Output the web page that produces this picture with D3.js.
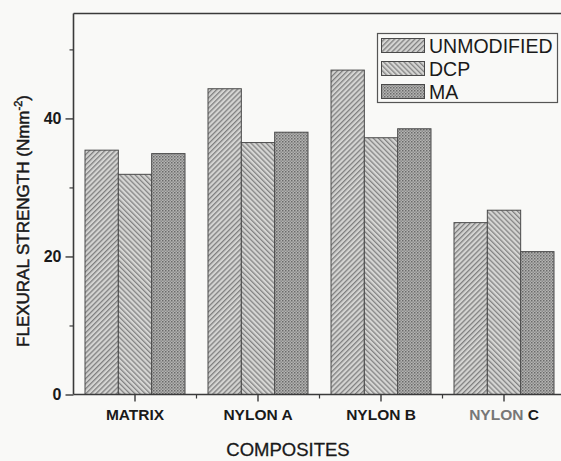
<!DOCTYPE html>
<html>
<head>
<meta charset="utf-8">
<script src="https://cdn.jsdelivr.net/npm/d3@7"></script>
<style>
  html, body { margin: 0; padding: 0; background: #f9f9f7; }
  svg { display: block; }
  text { font-family: "Liberation Sans", Arial, sans-serif; fill: #1a1a1a; }
</style>
</head>
<body>
<script>
const categories = ["MATRIX", "NYLON A", "NYLON B", "NYLON C"];
const seriesNames = ["UNMODIFIED", "DCP", "MA"];
const unmodified = [35.4, 44.3, 47.0, 24.9];
const dcp = [31.9, 36.5, 37.2, 26.7];
const ma = [34.9, 38.0, 38.5, 20.7];
const yMajorTicks = [0, 20, 40];
const yMinorTicks = [10, 30, 50];

(function () {
const seriesValues = [unmodified, dcp, ma];
const W = 561, H = 461;
const mLeft = 73.5, mTop = 13.5, mBottom = 394.5, mRight = 565.5;

const svg = d3.select("body").append("svg").attr("width", W).attr("height", H);
svg.append("rect").attr("width", W).attr("height", H).attr("fill", "#f9f9f7");

const defs = svg.append("defs");
const p1 = defs.append("pattern").attr("id", "pat0").attr("patternUnits", "userSpaceOnUse")
  .attr("width", 3.6).attr("height", 3.6).attr("patternTransform", "rotate(45)");
p1.append("rect").attr("width", 3.6).attr("height", 3.6).attr("fill", "#d4d4d2");
p1.append("rect").attr("width", 1.3).attr("height", 3.6).attr("fill", "#7f7f7f");
const p2 = defs.append("pattern").attr("id", "pat1").attr("patternUnits", "userSpaceOnUse")
  .attr("width", 3.6).attr("height", 3.6).attr("patternTransform", "rotate(-45)");
p2.append("rect").attr("width", 3.6).attr("height", 3.6).attr("fill", "#d6d6d4");
p2.append("rect").attr("width", 1.3).attr("height", 3.6).attr("fill", "#838383");
const p3 = defs.append("pattern").attr("id", "pat2").attr("patternUnits", "userSpaceOnUse")
  .attr("width", 3).attr("height", 3);
p3.append("rect").attr("width", 3).attr("height", 3).attr("fill", "#b4b4b2");
p3.append("rect").attr("width", 1.5).attr("height", 1.5).attr("fill", "#6a6a6a");
p3.append("rect").attr("x", 1.5).attr("y", 1.5).attr("width", 1.5).attr("height", 1.5).attr("fill", "#8a8a8a");

const y = d3.scaleLinear().domain([0, 55.2]).range([mBottom, mTop]);
const x0 = d3.scaleBand().domain(categories).range([mLeft, mRight]).paddingInner(0.187).paddingOuter(0.0935);
const x1 = d3.scaleBand().domain(seriesNames).range([0, x0.bandwidth()]);

categories.forEach((c, ci) => {
  seriesNames.forEach((s, si) => {
    const v = seriesValues[si][ci];
    svg.append("rect")
      .attr("x", x0(c) + x1(s))
      .attr("y", y(v))
      .attr("width", x1.bandwidth())
      .attr("height", y(0) - y(v))
      .attr("fill", `url(#pat${si})`)
      .attr("stroke", "#4a4a4a")
      .attr("stroke-width", 1);
  });
});

const axisColor = "#3a3a3a";
svg.append("line").attr("x1", mLeft).attr("x2", mRight).attr("y1", mTop).attr("y2", mTop)
  .attr("stroke", axisColor).attr("stroke-width", 1.6);
svg.append("line").attr("x1", mLeft).attr("x2", mLeft).attr("y1", mTop).attr("y2", mBottom)
  .attr("stroke", axisColor).attr("stroke-width", 1.6);
svg.append("line").attr("x1", mLeft).attr("x2", mRight).attr("y1", mBottom).attr("y2", mBottom)
  .attr("stroke", axisColor).attr("stroke-width", 1.6);

const yAxis = d3.axisLeft(y).tickValues(yMajorTicks).tickSize(8).tickPadding(4).tickFormat(d3.format("d"));
const gy = svg.append("g").attr("transform", `translate(${mLeft},0)`).call(yAxis);
gy.select(".domain").remove();
gy.selectAll(".tick line").attr("stroke", axisColor).attr("stroke-width", 1.4);
gy.selectAll(".tick text").style("font-size", "16px").style("font-weight", "bold").attr("fill", "#222");
const gyMinor = svg.append("g").attr("transform", `translate(${mLeft},0)`)
  .call(d3.axisLeft(y).tickValues(yMinorTicks).tickSize(4).tickFormat(""));
gyMinor.select(".domain").remove();
gyMinor.selectAll(".tick line").attr("stroke", axisColor).attr("stroke-width", 1.2);

const gx = svg.append("g").attr("transform", `translate(0,${mBottom})`)
  .call(d3.axisBottom(x0).tickSize(7).tickPadding(7));
gx.select(".domain").remove();
gx.selectAll(".tick line").attr("stroke", axisColor).attr("stroke-width", 1.4);
gx.selectAll(".tick text").style("font-size", "15.5px").style("font-weight", "bold").attr("fill", "#1a1a1a");
gx.selectAll(".tick text").filter(d => d === "NYLON C").text(null).each(function () {
  const t = d3.select(this);
  t.append("tspan").attr("fill", "#777").text("NYLON ");
  t.append("tspan").attr("fill", "#1a1a1a").text("C");
});
const bounds = categories.slice(1).map(c => x0(c) - x0.step() * x0.paddingInner() / 2);
svg.append("g").selectAll("line").data(bounds).join("line")
  .attr("x1", d => d).attr("x2", d => d).attr("y1", mBottom).attr("y2", mBottom + 4)
  .attr("stroke", axisColor).attr("stroke-width", 1.2);

svg.append("text").attr("x", 288).attr("y", 456).attr("text-anchor", "middle")
  .style("font-size", "18.5px").style("stroke", "#1a1a1a").style("stroke-width", 0.3).text("COMPOSITES");
const yt = svg.append("text").attr("transform", "translate(29,221) rotate(-90)").attr("text-anchor", "middle")
  .style("font-size", "17px").style("stroke", "#1a1a1a").style("stroke-width", 0.5);
yt.append("tspan").text("FLEXURAL STRENGTH (Nmm");
yt.append("tspan").attr("dy", -7).style("font-size", "11px").text("-2");
yt.append("tspan").attr("dy", 7).text(")");

const lg = svg.append("g");
lg.append("rect").attr("x", 377.5).attr("y", 33.5).attr("width", 180).attr("height", 69)
  .attr("fill", "#f9f9f7").attr("stroke", "#555").attr("stroke-width", 1.2);
seriesNames.forEach((s, i) => {
  lg.append("rect").attr("x", 381.5).attr("y", 38.5 + i * 23).attr("width", 43).attr("height", 14)
    .attr("fill", `url(#pat${i})`).attr("stroke", "#4a4a4a").attr("stroke-width", 1);
  lg.append("text").attr("x", 429).attr("y", 53 + i * 23).style("font-size", "19.5px").text(s);
});
})();
</script>
</body>
</html>
